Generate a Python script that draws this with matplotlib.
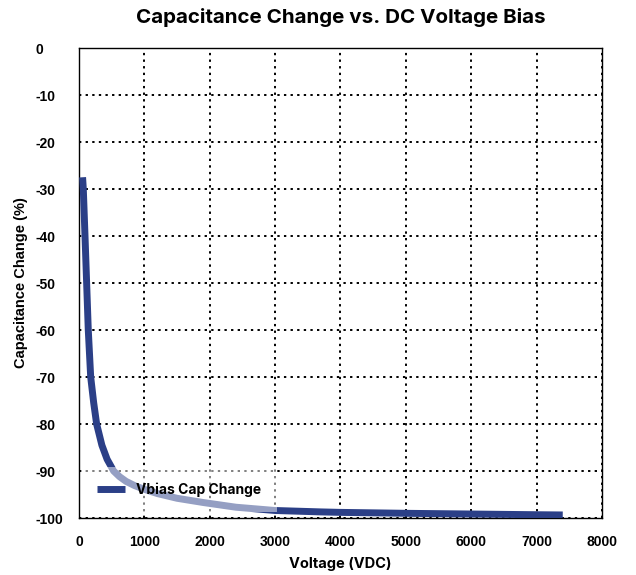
import matplotlib
matplotlib.use("Agg")
import matplotlib.pyplot as plt

voltage = [55, 66, 92, 117, 142, 179, 225, 270, 350, 430, 530, 620, 720, 850,
           1000, 1200, 1500, 1900, 2400, 3000, 3700, 4000, 5000, 6000, 7000,
           7400]
cap_change = [-27.5, -30, -40, -50, -60, -70, -75.5, -80, -84.5, -87.5, -90,
              -91.2, -92.2, -93.1, -93.9, -94.8, -95.8, -96.7, -97.7, -98.4,
              -98.7, -98.8, -99.0, -99.15, -99.3, -99.35]
series_name = "Vbias Cap Change"
x_ticks = [0, 1000, 2000, 3000, 4000, 5000, 6000, 7000, 8000]
y_ticks = [0, -10, -20, -30, -40, -50, -60, -70, -80, -90, -100]

fig = plt.figure(figsize=(6.36, 5.75), dpi=100)
ax = fig.add_axes([0.1242, 0.0991, 0.8223, 0.8174])

ax.plot(voltage, cap_change, color="#2B3F87", lw=5, solid_capstyle="butt",
        label=series_name, zorder=3)

ax.set_xlim(0, 8000)
ax.set_ylim(-100, 0)
ax.set_xticks(x_ticks)
ax.set_yticks(y_ticks)
ax.set_xticklabels([str(v) for v in x_ticks], fontfamily="Liberation Sans",
                   fontweight="bold", fontsize=10)
ax.set_yticklabels([str(v) for v in y_ticks], fontfamily="Liberation Sans",
                   fontweight="bold", fontsize=10, ha="left")
ax.tick_params(length=0)
ax.tick_params(axis="y", pad=31)
ax.tick_params(axis="x", pad=12)

ax.grid(True, color="black", linestyle=(0, (1.2, 2.2)), lw=1.4, zorder=1)
ax.set_axisbelow(True)
for s in ax.spines.values():
    s.set_color("black")
    s.set_linewidth(1.0)

ax.set_title("Capacitance Change vs. DC Voltage Bias", fontfamily="Inter",
             fontweight="bold", fontsize=14.8, pad=18)
ax.set_xlabel("Voltage (VDC)", fontfamily="Inter", fontweight="bold",
              fontsize=10.5, labelpad=6)
ax.set_ylabel("Capacitance Change (%)", fontfamily="Liberation Sans",
              fontweight="bold", fontsize=10.5, labelpad=6)

leg = ax.legend(loc="lower left", bbox_to_anchor=(0.005, 0.012),
                borderaxespad=0, frameon=True, framealpha=0.5,
                edgecolor="none", facecolor="white", fancybox=False,
                borderpad=1.1, handlelength=2.0, handletextpad=0.85,
                prop={"family": "Inter", "weight": "bold", "size": 10})

fig.savefig("out.png", dpi=100)
